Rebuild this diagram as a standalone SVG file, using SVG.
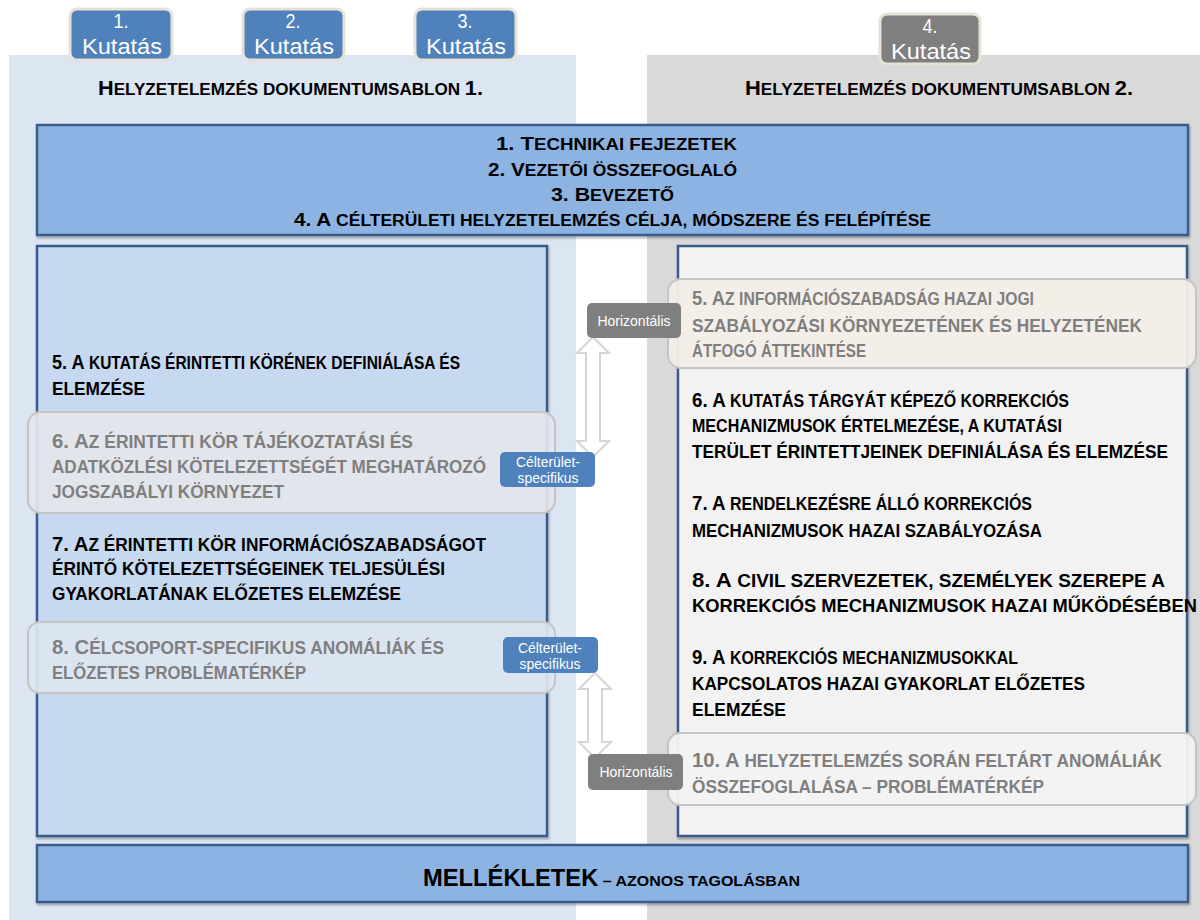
<svg xmlns="http://www.w3.org/2000/svg" width="1200" height="920" viewBox="0 0 1200 920">
<defs>
<style>
.t{font-family:"Liberation Sans",Arial,sans-serif;font-weight:bold;fill:#000;font-size:17.5px}
.g{fill:#7f7f7f}
.b{font-size:20.5px}
.tb{font-size:19px}
.ts{font-size:16px}
.w{font-family:"Liberation Sans",Arial,sans-serif;fill:#fff;text-anchor:middle}
.box{stroke:#385d8a;stroke-width:2.5}
.tab{stroke:#e6e2d6;stroke-width:3}
.hl{stroke:#c4c4c4;stroke-width:2}
.arr{fill:#fff;stroke:#d6d6d6;stroke-width:2}
</style>
<filter id="sh" x="-5%" y="-5%" width="110%" height="115%"><feDropShadow dx="1" dy="2" stdDeviation="1.2" flood-color="#000" flood-opacity="0.3"/></filter>
</defs>
<rect width="1200" height="920" fill="#fff"/>
<g id="panel-left"><rect x="9" y="55" width="567" height="865" fill="#dce6f2"/></g>
<g id="panel-right"><rect x="647" y="55" width="553" height="865" fill="#d9d9d9"/></g>

<g id="tab1"><rect class="tab" x="70" y="9" width="102" height="51" rx="7" fill="#4f81bd"/><text class="w" x="121" y="28" font-size="21" textLength="15" lengthAdjust="spacingAndGlyphs">1.</text><text class="w" x="122" y="54" font-size="22" textLength="80" lengthAdjust="spacingAndGlyphs">Kutatás</text></g>
<g id="tab2"><rect class="tab" x="243" y="9" width="101" height="51" rx="7" fill="#4f81bd"/><text class="w" x="293" y="28" font-size="21" textLength="15" lengthAdjust="spacingAndGlyphs">2.</text><text class="w" x="294" y="54" font-size="22" textLength="80" lengthAdjust="spacingAndGlyphs">Kutatás</text></g>
<g id="tab3"><rect class="tab" x="415" y="9" width="101" height="51" rx="7" fill="#4f81bd"/><text class="w" x="465" y="28" font-size="21" textLength="15" lengthAdjust="spacingAndGlyphs">3.</text><text class="w" x="466" y="54" font-size="22" textLength="80" lengthAdjust="spacingAndGlyphs">Kutatás</text></g>
<g id="tab4"><rect class="tab" x="880" y="14" width="100" height="50" rx="7" fill="#7f7f7f"/><text class="w" x="930" y="33" font-size="21" textLength="15" lengthAdjust="spacingAndGlyphs">4.</text><text class="w" x="931" y="59" font-size="22" textLength="80" lengthAdjust="spacingAndGlyphs">Kutatás</text></g>

<g id="header1"><text class="t" x="98" y="95" textLength="385" lengthAdjust="spacingAndGlyphs"><tspan font-size="21">H</tspan><tspan font-size="16.5">ELYZETELEMZÉS DOKUMENTUMSABLON </tspan><tspan font-size="21">1.</tspan></text></g>
<g id="header2"><text class="t" x="745" y="95" textLength="388" lengthAdjust="spacingAndGlyphs"><tspan font-size="21">H</tspan><tspan font-size="16.5">ELYZETELEMZÉS DOKUMENTUMSABLON </tspan><tspan font-size="21">2.</tspan></text></g>

<g id="top-box">
<rect class="box" x="37" y="125" width="1151" height="110" fill="#8db3e2" filter="url(#sh)"/>
<text class="t" x="496" y="150" textLength="241" lengthAdjust="spacingAndGlyphs"><tspan class="tb">1. T</tspan><tspan class="ts">ECHNIKAI FEJEZETEK</tspan></text>
<text class="t" x="488" y="176" textLength="249" lengthAdjust="spacingAndGlyphs"><tspan class="tb">2. V</tspan><tspan class="ts">EZETŐI ÖSSZEFOGLALÓ</tspan></text>
<text class="t" x="551" y="201" textLength="123" lengthAdjust="spacingAndGlyphs"><tspan class="tb">3. B</tspan><tspan class="ts">EVEZETŐ</tspan></text>
<text class="t" x="294" y="226" textLength="637" lengthAdjust="spacingAndGlyphs"><tspan class="tb">4. A</tspan><tspan class="ts"> CÉLTERÜLETI HELYZETELEMZÉS CÉLJA, MÓDSZERE ÉS FELÉPÍTÉSE</tspan></text>
</g>

<g id="left-box"><rect class="box" x="37" y="246" width="510" height="590" fill="#c6d9f1" filter="url(#sh)"/></g>
<g id="right-box"><rect class="box" x="678" y="246" width="509" height="590" fill="#f2f2f2" filter="url(#sh)"/></g>

<g id="left-5">
<text class="t" x="52" y="369" textLength="408" lengthAdjust="spacingAndGlyphs"><tspan class="b">5. A</tspan> KUTATÁS ÉRINTETTI KÖRÉNEK DEFINIÁLÁSA ÉS</text>
<text class="t" x="52" y="395" textLength="93" lengthAdjust="spacingAndGlyphs">ELEMZÉSE</text>
</g>
<g id="left-6">
<rect class="hl" x="28" y="412" width="527" height="101" rx="13" fill="#e4e6ea" fill-opacity="0.92"/>
<text class="t g" x="52" y="448" textLength="361" lengthAdjust="spacingAndGlyphs"><tspan class="b">6. A</tspan>Z ÉRINTETTI KÖR TÁJÉKOZTATÁSI ÉS</text>
<text class="t g" x="52" y="473" textLength="434" lengthAdjust="spacingAndGlyphs">ADATKÖZLÉSI KÖTELEZETTSÉGÉT MEGHATÁROZÓ</text>
<text class="t g" x="52" y="498" textLength="232" lengthAdjust="spacingAndGlyphs">JOGSZABÁLYI KÖRNYEZET</text>
</g>
<g id="left-7">
<text class="t" x="52" y="551" textLength="434" lengthAdjust="spacingAndGlyphs"><tspan class="b">7. A</tspan>Z ÉRINTETTI KÖR INFORMÁCIÓSZABADSÁGOT</text>
<text class="t" x="52" y="575" textLength="393" lengthAdjust="spacingAndGlyphs">ÉRINTŐ KÖTELEZETTSÉGEINEK TELJESÜLÉSI</text>
<text class="t" x="52" y="600" textLength="349" lengthAdjust="spacingAndGlyphs">GYAKORLATÁNAK ELŐZETES ELEMZÉSE</text>
</g>
<g id="left-8">
<rect class="hl" x="28" y="622" width="527" height="71" rx="12" fill="#dce6f2" fill-opacity="0.92"/>
<text class="t g" x="52" y="654" textLength="392" lengthAdjust="spacingAndGlyphs"><tspan class="b">8. C</tspan>ÉLCSOPORT-SPECIFIKUS ANOMÁLIÁK ÉS</text>
<text class="t g" x="52" y="679" textLength="254" lengthAdjust="spacingAndGlyphs">ELŐZETES PROBLÉMATÉRKÉP</text>
</g>

<g id="right-5">
<rect class="hl" x="668" y="279" width="528" height="89" rx="13" fill="#f3ede8" fill-opacity="0.95"/>
<text class="t g" x="692" y="305" textLength="342" lengthAdjust="spacingAndGlyphs"><tspan class="b">5. A</tspan>Z INFORMÁCIÓSZABADSÁG HAZAI JOGI</text>
<text class="t g" x="692" y="332" textLength="450" lengthAdjust="spacingAndGlyphs">SZABÁLYOZÁSI KÖRNYEZETÉNEK ÉS HELYZETÉNEK</text>
<text class="t g" x="692" y="357" textLength="174" lengthAdjust="spacingAndGlyphs">ÁTFOGÓ ÁTTEKINTÉSE</text>
</g>
<g id="right-6">
<text class="t" x="692" y="407" textLength="377" lengthAdjust="spacingAndGlyphs"><tspan class="b">6. A</tspan> KUTATÁS TÁRGYÁT KÉPEZŐ KORREKCIÓS</text>
<text class="t" x="692" y="432" textLength="370" lengthAdjust="spacingAndGlyphs">MECHANIZMUSOK ÉRTELMEZÉSE, A KUTATÁSI</text>
<text class="t" x="692" y="458" textLength="476" lengthAdjust="spacingAndGlyphs">TERÜLET ÉRINTETTJEINEK DEFINIÁLÁSA ÉS ELEMZÉSE</text>
</g>
<g id="right-7">
<text class="t" x="692" y="510" textLength="340" lengthAdjust="spacingAndGlyphs"><tspan class="b">7. A</tspan> RENDELKEZÉSRE ÁLLÓ KORREKCIÓS</text>
<text class="t" x="692" y="537" textLength="350" lengthAdjust="spacingAndGlyphs">MECHANIZMUSOK HAZAI SZABÁLYOZÁSA</text>
</g>
<g id="right-8">
<text class="t" x="692" y="587" textLength="473" lengthAdjust="spacingAndGlyphs"><tspan class="b">8. A</tspan> CIVIL SZERVEZETEK, SZEMÉLYEK SZEREPE A</text>
<text class="t" x="692" y="612" textLength="505" lengthAdjust="spacingAndGlyphs">KORREKCIÓS MECHANIZMUSOK HAZAI MŰKÖDÉSÉBEN</text>
</g>
<g id="right-9">
<text class="t" x="692" y="664" textLength="326" lengthAdjust="spacingAndGlyphs"><tspan class="b">9. A</tspan> KORREKCIÓS MECHANIZMUSOKKAL</text>
<text class="t" x="692" y="690" textLength="393" lengthAdjust="spacingAndGlyphs">KAPCSOLATOS HAZAI GYAKORLAT ELŐZETES</text>
<text class="t" x="692" y="716" textLength="94" lengthAdjust="spacingAndGlyphs">ELEMZÉSE</text>
</g>
<g id="right-10">
<rect class="hl" x="668" y="733" width="528" height="72" rx="12" fill="#f2f2f2" fill-opacity="0.95"/>
<text class="t g" x="692" y="767" textLength="470" lengthAdjust="spacingAndGlyphs"><tspan class="b">10. A</tspan> HELYZETELEMZÉS SORÁN FELTÁRT ANOMÁLIÁK</text>
<text class="t g" x="692" y="793" textLength="352" lengthAdjust="spacingAndGlyphs">ÖSSZEFOGLALÁSA – PROBLÉMATÉRKÉP</text>
</g>

<g id="bottom-box">
<rect class="box" x="37" y="845" width="1151" height="57" fill="#8db3e2" filter="url(#sh)"/>
<text class="t" x="423" y="886" textLength="377" lengthAdjust="spacingAndGlyphs"><tspan font-size="23">MELLÉKLETEK</tspan><tspan font-size="15.5"> – AZONOS TAGOLÁSBAN</tspan></text>
</g>

<g id="connectors">
<polygon class="arr" points="593,337 609,353 600,353 600,441 609,441 593,457 577,441 586,441 586,353 577,353"/>
<polygon class="arr" points="595,673 611,689 602,689 602,742 611,742 595,758 579,742 588,742 588,689 579,689"/>
</g>

<g id="badge-h1"><rect x="587" y="303" width="94" height="35" rx="5" fill="#7f7f7f"/><text class="w" x="634" y="326" font-size="15" textLength="73" lengthAdjust="spacingAndGlyphs">Horizontális</text></g>
<g id="badge-c1"><rect x="500" y="452" width="95" height="35" rx="5" fill="#4f81bd"/><text class="w" x="548" y="467" font-size="15" textLength="64" lengthAdjust="spacingAndGlyphs">Célterület-</text><text class="w" x="548" y="483" font-size="15" textLength="61" lengthAdjust="spacingAndGlyphs">specifikus</text></g>
<g id="badge-c2"><rect x="503" y="637" width="95" height="36" rx="5" fill="#4f81bd"/><text class="w" x="550" y="653" font-size="15" textLength="64" lengthAdjust="spacingAndGlyphs">Célterület-</text><text class="w" x="550" y="669" font-size="15" textLength="61" lengthAdjust="spacingAndGlyphs">specifikus</text></g>
<g id="badge-h2"><rect x="588" y="754" width="95" height="36" rx="5" fill="#7f7f7f"/><text class="w" x="636" y="777" font-size="15" textLength="73" lengthAdjust="spacingAndGlyphs">Horizontális</text></g>
</svg>
